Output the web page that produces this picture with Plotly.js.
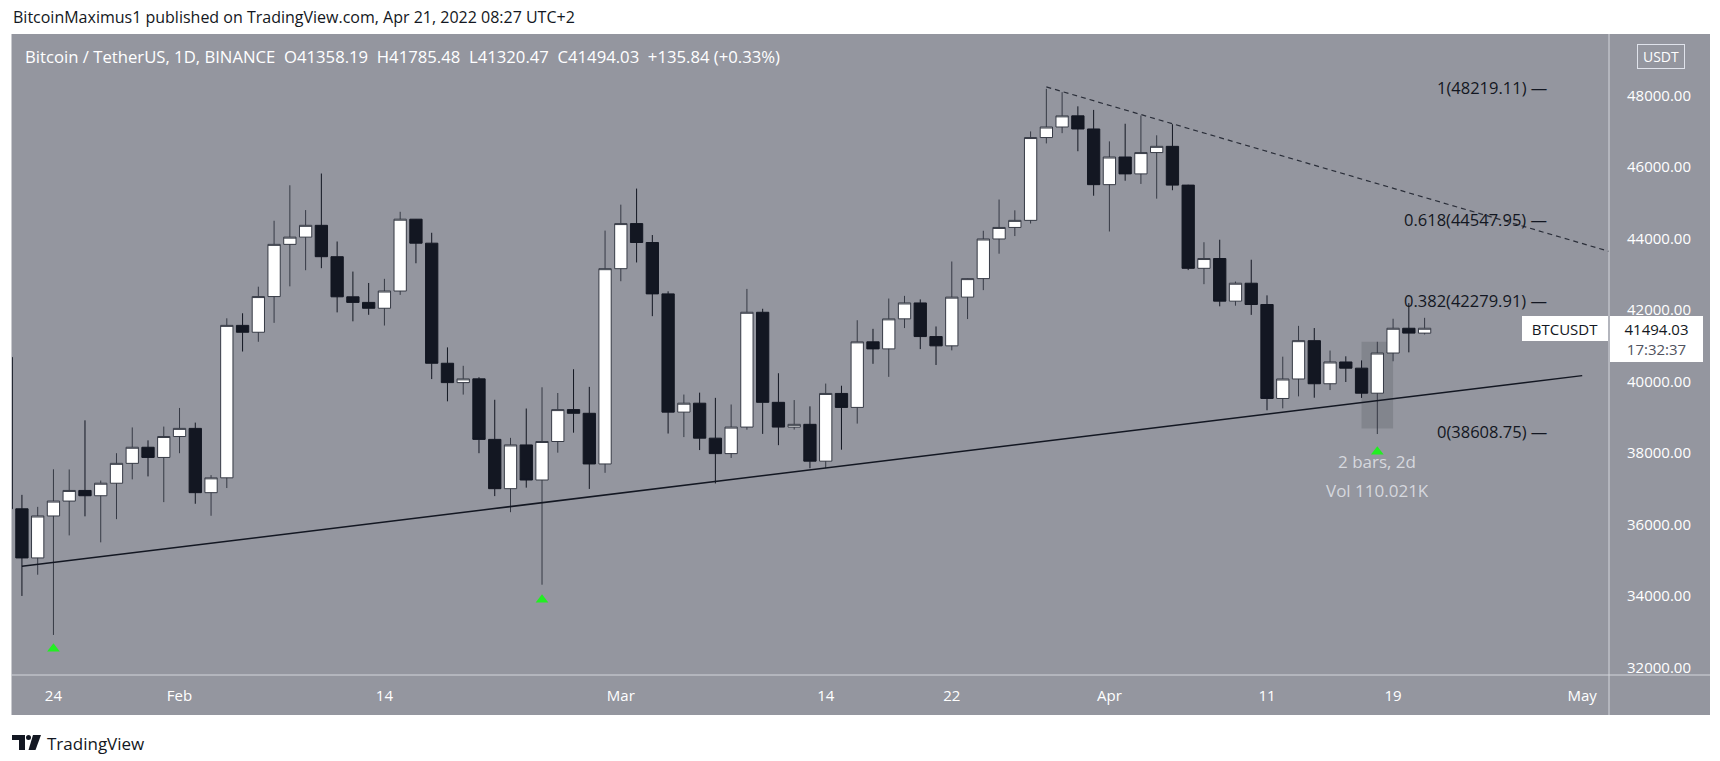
<!DOCTYPE html>
<html><head><meta charset="utf-8">
<script src="https://cdn.plot.ly/plotly-3.0.1.min.js"></script>
<style>html,body{margin:0;padding:0;background:#fff;overflow:hidden}#chart{width:1720px;height:761px}</style>
</head><body><div id="chart"></div>
<script>
// ---- data (BTCUSDT 1D, BINANCE) ----
const dates = ['2022-01-21','2022-01-22','2022-01-23','2022-01-24','2022-01-25','2022-01-26','2022-01-27','2022-01-28','2022-01-29','2022-01-30','2022-01-31',
'2022-02-01','2022-02-02','2022-02-03','2022-02-04','2022-02-05','2022-02-06','2022-02-07','2022-02-08','2022-02-09','2022-02-10','2022-02-11','2022-02-12','2022-02-13','2022-02-14','2022-02-15','2022-02-16','2022-02-17','2022-02-18','2022-02-19','2022-02-20','2022-02-21','2022-02-22','2022-02-23','2022-02-24','2022-02-25','2022-02-26','2022-02-27','2022-02-28',
'2022-03-01','2022-03-02','2022-03-03','2022-03-04','2022-03-05','2022-03-06','2022-03-07','2022-03-08','2022-03-09','2022-03-10','2022-03-11','2022-03-12','2022-03-13','2022-03-14','2022-03-15','2022-03-16','2022-03-17','2022-03-18','2022-03-19','2022-03-20','2022-03-21','2022-03-22','2022-03-23','2022-03-24','2022-03-25','2022-03-26','2022-03-27','2022-03-28','2022-03-29','2022-03-30','2022-03-31',
'2022-04-01','2022-04-02','2022-04-03','2022-04-04','2022-04-05','2022-04-06','2022-04-07','2022-04-08','2022-04-09','2022-04-10','2022-04-11','2022-04-12','2022-04-13','2022-04-14','2022-04-15','2022-04-16','2022-04-17','2022-04-18','2022-04-19','2022-04-20','2022-04-21'];
const openP = [40680,36445,35071,36244,36661,36958,36810,37160,37716,38166,37881,
38466,38694,36896,37311,41574,41382,42380,43840,44042,44372,43495,42373,42217,42053,42535,44544,43873,40515,39974,40079,38386,37008,38231,37250,38327,39219,39116,37699,
43160,44421,43892,42455,39148,39398,38420,37988,38730,41941,39422,38730,38807,37777,39671,39280,41114,40917,41757,42202,41262,41002,42364,42882,43991,44313,44511,46827,47122,47434,47067,
45510,46283,45811,46407,46581,45497,43170,43444,42252,42753,42158,39530,40075,41147,39942,40551,40378,39678,40801,41494.03,41358.19];
const highP = [41100,36835,36499,37550,37545,38919,37234,38000,38720,38359,38744,
39265,38855,37387,41772,41913,42656,44500,45492,44799,45821,43920,43079,42760,42876,44751,44549,44164,40959,40444,40125,39494,38429,39249,39843,39683,40348,39855,44225,
44950,45400,44101,42527,39640,39693,39547,39362,42594,42039,40236,39486,39310,39947,39887,41718,41478,42325,42400,42301,41544,43361,42893,44220,45094,44792,46999,48190,48096,47700,47600,
46720,47213,47444,46890,47200,45507,43900,43970,42800,43410,42414,40699,41561,41500,40870,40709,40595,41116,41760,42199,41785.48];
const lowP = [35440,34008,34601,32917,35701,36234,35507,36155,37268,37351,36632,
38000,36586,36250,37026,40843,41116,41645,42666,43117,43174,41938,41688,41870,41570,42428,43311,40073,39450,39639,38000,36800,36350,37036,34322,38014,38573,37000,37451,
42809,43334,41832,38550,38450,38088,37155,37867,38657,38540,38224,38661,37578,37578,38098,38828,40500,40135,41499,40911,40467,40875,41751,42560,43579,44072,44422,46663,46950,46445,45200,
44200,45620,45530,45118,45354,43121,42727,42107,42125,41868,39200,39254,39589,39551,39766,39991,39546,38536,40571,40820,41320.47];
const closeP = [36445,35071,36244,36661,36958,36810,37160,37716,38166,37881,38466,
38694,36896,37311,41574,41382,42380,43840,44042,44372,43495,42373,42217,42053,42535,44544,43873,40515,39974,40079,38386,37008,38231,37250,38327,39219,39116,37699,43160,
44421,43892,42455,39148,39398,38420,37988,38730,41941,39422,38730,38807,37777,39671,39280,41114,40917,41757,42202,41262,41002,42364,42882,43991,44313,44511,46827,47122,47434,47067,45510,
46283,45811,46407,46581,45497,43170,43444,42252,42753,42158,39530,40075,41147,39942,40551,40378,39678,40801,41494.03,41358.19,41494.03];

const xTickDates = ['2022-01-24','2022-02-01','2022-02-14','2022-03-01','2022-03-14','2022-03-22','2022-04-01','2022-04-11','2022-04-19','2022-05-01'];
const xTickLabels = ['24','Feb','14','Mar','14','22','Apr','11','19','May'];
const yTickVals = [32000,34000,36000,38000,40000,42000,44000,46000,48000];

const fibRatios = ['1','0.618','0.382','0'];
const fibPrices = [48219.11, 44547.95, 42279.91, 38608.75];

const supportX = ['2022-01-22','2022-05-01'];
const supportY = [34838, 40169];
const resistX = ['2022-03-28','2022-05-03'];
const resistY = [48243, 43606];

const signalDates = ['2022-01-24','2022-02-24','2022-04-18'];
const signalY = [32530, 33900, 38040];

const rangeDates = ['2022-04-17','2022-04-19'];
const rangeY = [38690, 41120];
const rangeText = ['2 bars, 2d', 'Vol 110.021K'];
const countdown = '17:32:37';

// ---- layout helpers (page pixels -> paper) ----
const L = 12, R = 1609, T = 34, B = 675;
const px = X => (X - L) / (R - L);
const py = Y => (B - Y) / (B - T);

const n = closeP.length;
const last = n - 1;
const chg = closeP[last] - closeP[last - 1];
const pct = chg / closeP[last - 1] * 100;
const nb = '\u00a0';
const legendText = 'Bitcoin / TetherUS, 1D, BINANCE' + nb + nb +
  'O' + openP[last].toFixed(2) + nb + nb + 'H' + highP[last].toFixed(2) + nb + nb +
  'L' + lowP[last].toFixed(2) + nb + nb + 'C' + closeP[last].toFixed(2) + nb + nb +
  (chg >= 0 ? '+' : '') + chg.toFixed(2) + ' (' + (pct >= 0 ? '+' : '') + pct.toFixed(2) + '%)';

const FONT = 'Open Sans, Roboto, sans-serif';
const panel = '#94969f';
const dark = '#131722';

const traces = [
  {type: 'candlestick', x: dates, open: openP, high: highP, low: lowP, close: closeP,
   increasing: {line: {color: '#363a45', width: 1}, fillcolor: '#ffffff'},
   decreasing: {line: {color: dark, width: 1}, fillcolor: dark},
   whiskerwidth: 0, hoverinfo: 'skip', showlegend: false},
  {type: 'scatter', mode: 'lines', x: supportX, y: supportY,
   line: {color: dark, width: 1.5}, hoverinfo: 'skip', showlegend: false},
  {type: 'scatter', mode: 'lines', x: resistX, y: resistY,
   line: {color: '#2a2e39', width: 1.2, dash: '5px,4px'}, hoverinfo: 'skip', showlegend: false},
  {type: 'scatter', mode: 'markers', x: signalDates, y: signalY,
   marker: {symbol: 'triangle-up', size: 11, color: '#22ee22'}, hoverinfo: 'skip', showlegend: false}
];

const annotations = [];
annotations.push({xref: 'paper', yref: 'paper', x: px(11), y: py(17), xanchor: 'left', yanchor: 'middle',
  text: 'BitcoinMaximus1 published on TradingView.com, Apr 21, 2022 08:27 UTC+2', showarrow: false,
  font: {family: FONT, size: 16, color: dark}});
annotations.push({xref: 'paper', yref: 'paper', x: px(23), y: py(56), xanchor: 'left', yanchor: 'middle',
  text: legendText, showarrow: false, font: {family: FONT, size: 16.7, color: '#ffffff'}});
for (let i = 0; i < fibPrices.length; i++) {
  annotations.push({xref: 'paper', yref: 'y', x: px(1549), y: fibPrices[i], xanchor: 'right', yanchor: 'middle',
    text: fibRatios[i] + '(' + fibPrices[i].toFixed(2) + ')' + nb + '—', showarrow: false,
    font: {family: FONT, size: 16.5, color: dark}});
}
annotations.push({xref: 'x', yref: 'paper', x: '2022-04-18', y: py(461.7), xanchor: 'center', yanchor: 'middle',
  text: rangeText[0], showarrow: false, font: {family: FONT, size: 17, color: '#d6d8de'}});
annotations.push({xref: 'x', yref: 'paper', x: '2022-04-18', y: py(490), xanchor: 'center', yanchor: 'middle',
  text: rangeText[1], showarrow: false, font: {family: FONT, size: 17, color: '#d6d8de'}});
annotations.push({xref: 'paper', yref: 'paper', x: px(1565), y: py(328.2), xanchor: 'center', yanchor: 'middle',
  text: 'BTCUSDT', showarrow: false, width: 86, height: 25, bgcolor: '#ffffff', borderpad: 0, borderwidth: 0,
  font: {family: FONT, size: 15, color: dark}});
annotations.push({xref: 'paper', yref: 'paper', x: px(1656.7), y: py(338.7), xanchor: 'center', yanchor: 'middle',
  text: closeP[last].toFixed(2) + '<br><span style="color:#50535e">' + countdown + '</span>', showarrow: false,
  width: 93, height: 46, bgcolor: '#ffffff', borderpad: 0, borderwidth: 0,
  font: {family: FONT, size: 15, color: dark}});
annotations.push({xref: 'paper', yref: 'paper', x: px(1660.5), y: py(56.5), xanchor: 'center', yanchor: 'middle',
  text: 'USDT', showarrow: false, width: 44, height: 21, bordercolor: '#e0e3eb', borderwidth: 1, borderpad: 1,
  font: {family: FONT, size: 14, color: '#ffffff'}});
annotations.push({xref: 'paper', yref: 'paper', x: px(45), y: py(743), xanchor: 'left', yanchor: 'middle',
  text: 'TradingView', showarrow: false, font: {family: FONT, size: 17, color: dark}});

const P = (X, Y) => px(X) + ',' + py(Y);
const shapes = [
  {type: 'rect', xref: 'paper', yref: 'paper', x0: px(11.5), x1: px(1710), y0: py(715), y1: py(34),
   fillcolor: panel, line: {width: 0}, layer: 'below'},
  {type: 'rect', xref: 'x', yref: 'y', x0: rangeDates[0], x1: rangeDates[1], y0: rangeY[0], y1: rangeY[1],
   fillcolor: '#82858d', line: {width: 0}, layer: 'below'},
  {type: 'line', xref: 'paper', yref: 'paper', x0: px(11.5), x1: px(1710), y0: py(675), y1: py(675),
   line: {color: '#d3d5db', width: 1}},
  {type: 'line', xref: 'paper', yref: 'paper', x0: px(1609), x1: px(1609), y0: py(34), y1: py(715),
   line: {color: '#d3d5db', width: 1}},
  // TradingView logo
  {type: 'path', xref: 'paper', yref: 'paper', path: 'M' + P(12, 735) + ' L' + P(25, 735) + ' L' + P(25, 750) + ' L' + P(19, 750) + ' L' + P(19, 740) + ' L' + P(12, 740) + ' Z',
   fillcolor: dark, line: {width: 0}},
  {type: 'circle', xref: 'paper', yref: 'paper', x0: px(26), x1: px(31), y0: py(740), y1: py(735),
   fillcolor: dark, line: {width: 0}},
  {type: 'path', xref: 'paper', yref: 'paper', path: 'M' + P(33, 735) + ' L' + P(41, 735) + ' L' + P(35.5, 750) + ' L' + P(28.5, 750) + ' Z',
   fillcolor: dark, line: {width: 0}}
];

const layout = {
  width: 1720, height: 761,
  margin: {l: L, r: 1720 - R, t: T, b: 761 - B, pad: 0},
  paper_bgcolor: '#ffffff', plot_bgcolor: 'rgba(0,0,0,0)',
  showlegend: false,
  boxgap: 0.22, boxgroupgap: 0,
  xaxis: {type: 'date', range: ['2022-01-21 08:53', '2022-05-02 16:48'],
    rangeslider: {visible: false}, showgrid: false, zeroline: false, showline: false,
    tickmode: 'array', tickvals: xTickDates, ticktext: xTickLabels,
    ticks: 'outside', ticklen: 7, tickcolor: 'rgba(0,0,0,0)',
    tickfont: {family: FONT, size: 15, color: '#ffffff'}, fixedrange: true},
  yaxis: {side: 'right', range: [31797, 49723], showgrid: false, zeroline: false, showline: false,
    tickmode: 'array', tickvals: yTickVals, ticktext: yTickVals.map(v => v.toFixed(2)),
    ticks: 'outside', ticklen: 14, tickcolor: 'rgba(0,0,0,0)',
    tickfont: {family: FONT, size: 15, color: '#ffffff'}, fixedrange: true},
  annotations: annotations,
  shapes: shapes
};

Plotly.newPlot('chart', traces, layout, {displayModeBar: false, staticPlot: true});
</script>
</body></html>
